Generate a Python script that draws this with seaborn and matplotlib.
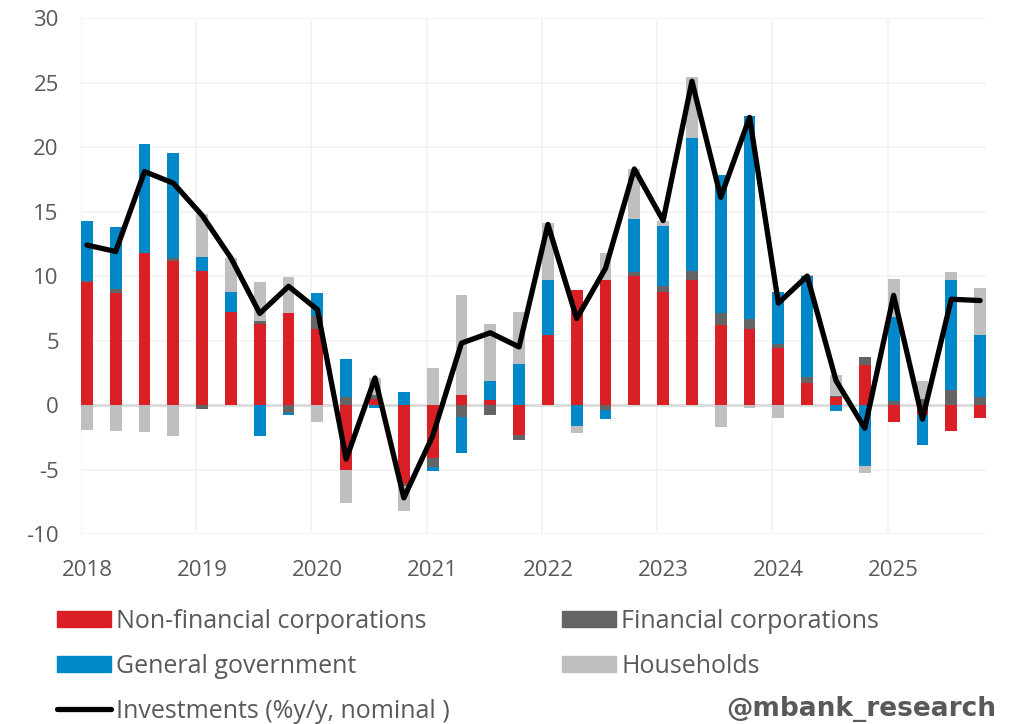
import numpy as np
import pandas as pd
import matplotlib
matplotlib.use("Agg")
import matplotlib.pyplot as plt
from matplotlib.patches import Patch
from matplotlib.lines import Line2D
import seaborn as sns

# Quarterly contributions to investment growth, 2018Q1-2025Q4 (pp)
years = ["2018", "2019", "2020", "2021", "2022", "2023", "2024", "2025"]

non_financial = [9.5, 8.7, 11.8, 11.2, 10.4, 7.2, 6.3, 7.1,
                 5.9, -5.0, 0.5, -6.1, -4.1, 0.8, 0.4, -2.3,
                 5.4, 8.9, 9.7, 10.0, 8.8, 9.7, 6.2, 5.9,
                 4.4, 1.7, 0.6, 3.1, -1.3, -0.8, -2.0, -1.0]
financial = [0.1, 0.3, 0.0, 0.2, -0.3, 0.0, 0.2, -0.6,
             1.0, 0.6, 0.3, -0.2, -0.7, -0.9, -0.8, -0.4,
             0.0, 0.0, -0.4, 0.3, 0.4, 0.7, 0.9, 0.8,
             0.3, 0.5, 0.1, 0.6, 0.3, 0.5, 1.2, 0.6]
general_gov = [4.7, 4.8, 8.4, 8.1, 1.1, 1.6, -2.4, -0.2,
               1.8, 3.0, -0.2, 1.0, -0.3, -2.8, 1.5, 3.2,
               4.3, -1.6, -0.7, 4.1, 4.7, 10.3, 10.7, 15.7,
               4.1, 7.8, -0.5, -4.7, 6.5, -2.3, 8.5, 4.8]
households = [-1.9, -2.0, -2.1, -2.4, 3.3, 2.6, 3.0, 2.8,
              -1.3, -2.6, 1.3, -1.9, 2.9, 7.7, 4.4, 4.0,
              4.4, -0.6, 2.1, 3.9, 0.4, 4.7, -1.7, -0.2,
              -1.0, 0.1, 1.6, -0.6, 3.0, 1.4, 0.6, 3.7]
investments = [12.4, 11.9, 18.1, 17.2, 14.7, 11.4, 7.1, 9.2,
               7.4, -4.2, 2.1, -7.2, -2.4, 4.8, 5.6, 4.5,
               14.0, 6.7, 10.6, 18.3, 14.3, 25.1, 16.1, 22.3,
               7.9, 10.0, 1.9, -1.8, 8.5, -1.1, 8.2, 8.1]

series_labels = ["Non-financial corporations", "Financial corporations",
                 "General government", "Households"]
line_label = "Investments (%y/y, nominal )"
colors = ["#DA1F26", "#646464", "#0088C9", "#BFBFBF"]
text_color = "#595959"

sns.set_theme(style="white")
plt.rcParams["font.family"] = ["Open Sans", "DejaVu Sans"]

fig = plt.figure(figsize=(10.15, 7.24), dpi=100)
ax = fig.add_axes([0.0798, 0.2624, 0.8916, 0.7127])

n = len(investments)
pos = np.arange(n)
bar_w = 0.41
centers = pos + bar_w / 2

# Stack positives upward and negatives downward, in series order
pos_base = np.zeros(n)
neg_base = np.zeros(n)
for vals, col in zip([non_financial, financial, general_gov, households], colors):
    v = np.asarray(vals, dtype=float)
    bottom = np.where(v >= 0, pos_base, neg_base)
    ax.bar(pos, v, width=bar_w, bottom=bottom, align="edge", color=col,
           linewidth=0, zorder=3)
    pos_base = pos_base + np.where(v >= 0, v, 0)
    neg_base = neg_base + np.where(v < 0, v, 0)

df_line = pd.DataFrame({"x": centers, "y": investments})
sns.lineplot(data=df_line, x="x", y="y", ax=ax, color="black", lw=3.8,
             zorder=5, legend=False)

# Grid: horizontal at each 5 pp, vertical at the start of each year
for yv in range(-10, 31, 5):
    if yv != 0:
        ax.axhline(yv, color="#F2F2F2", lw=1.2, zorder=0)
for k in range(0, n, 4):
    ax.axvline(k, color="#F2F2F2", lw=1.2, zorder=0)
ax.axhline(0, color="#D9D9D9", lw=2.0, zorder=1)

ax.set_xlim(0, 31.41)
ax.set_ylim(-10, 30)
ax.set_yticks(range(-10, 31, 5))
ax.set_yticklabels([str(v) for v in range(-10, 31, 5)])
ax.set_xticks(pos[::4] + bar_w / 2)
ax.set_xticklabels(years)
ax.tick_params(axis="both", length=0, labelsize=16, labelcolor=text_color)
ax.tick_params(axis="y", pad=16)
ax.tick_params(axis="x", pad=19)
ax.set_xlabel("")
ax.set_ylabel("")
ax.grid(False)
for s in ax.spines.values():
    s.set_visible(False)

leg_kw = dict(frameon=False, fontsize=18, handlelength=2.16, handleheight=0.64,
              handletextpad=0.2, labelspacing=0.8, borderaxespad=0, borderpad=0,
              labelcolor=text_color, loc="upper left")
h1 = [Patch(color=colors[0]), Patch(color=colors[2]),
      Line2D([0], [0], color="black", lw=3.8)]
fig.legend(h1, [series_labels[0], series_labels[2], line_label],
           bbox_to_anchor=(0.056, 0.159), **leg_kw)
h2 = [Patch(color=colors[1]), Patch(color=colors[3])]
fig.legend(h2, [series_labels[1], series_labels[3]],
           bbox_to_anchor=(0.554, 0.159), **leg_kw)

fig.text(0.982, 0.021, "@mbank_research", ha="right", va="center",
         fontsize=19, fontweight="bold", color="#595959",
         family=["Liberation Sans Narrow", "DejaVu Sans"])

fig.savefig("out.png", dpi=100)
